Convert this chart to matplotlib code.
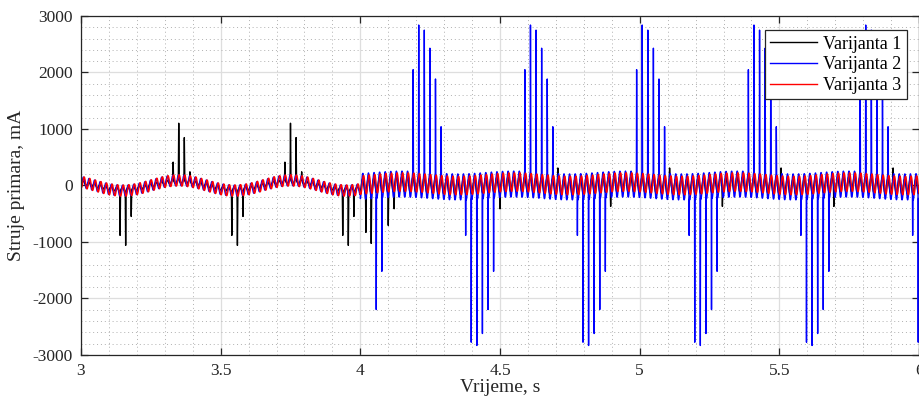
import numpy as np
import matplotlib
matplotlib.use('Agg')
import matplotlib.pyplot as plt
from matplotlib.ticker import MultipleLocator, FuncFormatter

# spike groups (time of first spike, s / peak values, mA)
spike_step = 0.02
v1_neg_starts = [3.140, 3.540, 3.937]
v1_neg_peaks = [-883, -1060, -548]
v1_pos_starts = [3.330, 3.730]
v1_pos_peaks = [413, 1102, 848, 242]
v1_extra_t = [4.020, 4.039, 4.100, 4.121, 4.500, 4.896, 5.296, 5.695, 4.707, 5.107, 5.506, 5.907]
v1_extra_y = [-830, -1025, -707, -412, -412, -370, -370, -370, 310, 310, 310, 310]

v2_pos_starts = [4.189, 4.589, 4.989, 5.389, 5.789]
v2_pos_peaks = [2050, 2840, 2750, 2430, 1885, 1040]
v2_neg_starts = [3.977, 4.377, 4.777, 5.177, 5.577, 5.977]
v2_neg_peaks = [-883, -2774, -2832, -2620, -2196, -1519]
v2_on = 4.05

# background ripple (V1, V2, V3)
f_grid = 50.0
f_slow = 2.5
switch_t = 4.0
ripple_pre = [35, 95, 100]
ripple_post = [130, 230, 165]
hump_pre = [70, 90, 90]
hump_post = [20, 25, 30]
offset_post = [0, 0, 30]
phase = [0.3, 0.0, -0.8]

labels = ['Varijanta 1', 'Varijanta 2', 'Varijanta 3']
colors = ['black', 'blue', 'red']

t = np.arange(3.0, 6.0001, 0.0002)


def base_wave(i):
    pre = t < switch_t
    amp = np.where(pre, ripple_pre[i], ripple_post[i])
    hump = np.where(pre, hump_pre[i], hump_post[i])
    off = np.where(pre, 0, offset_post[i])
    return off + hump * np.cos(2 * np.pi * f_slow * (t - 3.35)) + \
        amp * np.cos(2 * np.pi * f_grid * (t - 4.189) + phase[i])


def add_spikes(y, times, peaks, hw):
    for ts, h in zip(times, peaks):
        w = np.clip(1 - np.abs(t - ts) / hw, 0, 1)
        y = y * (1 - w) + h * w
    return y


def group(starts, peaks, t_min=None):
    ts, hs = [], []
    for s in starts:
        for k, h in enumerate(peaks):
            tk = s + k * spike_step
            if t_min is not None and tk < t_min:
                continue
            ts.append(tk)
            hs.append(h)
    return ts, hs


y1 = base_wave(0)
for st, pk in [(v1_neg_starts, v1_neg_peaks), (v1_pos_starts, v1_pos_peaks)]:
    ts, hs = group(st, pk)
    y1 = add_spikes(y1, ts, hs, 0.0015)
y1 = add_spikes(y1, v1_extra_t, v1_extra_y, 0.0015)

y2 = base_wave(1)
for st, pk in [(v2_pos_starts, v2_pos_peaks), (v2_neg_starts, v2_neg_peaks)]:
    ts, hs = group(st, pk, v2_on)
    y2 = add_spikes(y2, ts, hs, 0.0008)

y3 = base_wave(2)

plt.rcParams['font.family'] = ['Liberation Serif', 'DejaVu Serif']
plt.rcParams['axes.unicode_minus'] = False

fig = plt.figure(figsize=(9.2, 4.05), dpi=100)
ax = fig.add_axes([0.088, 0.1235, 0.911, 0.837])

for y, c, lab in zip([y1, y2, y3], colors, labels):
    ax.plot(t, y, color=c, lw=1.0, label=lab)

ax.set_xlim(3, 6)
ax.set_ylim(-3000, 3000)
ax.xaxis.set_major_locator(MultipleLocator(0.5))
ax.xaxis.set_minor_locator(MultipleLocator(0.1))
ax.yaxis.set_major_locator(MultipleLocator(1000))
ax.yaxis.set_minor_locator(MultipleLocator(200))
ax.xaxis.set_major_formatter(FuncFormatter(lambda v, p: '%g' % v))

ax.grid(which='major', color='#dedede', lw=0.9, ls='-')
ax.grid(which='minor', color='#b0b0b0', lw=0.7, ls=(0, (1, 3)))
ax.set_axisbelow(True)

ax.tick_params(which='major', direction='in', length=5, width=0.9, top=True, right=True,
               labelsize=12.5, colors='#262626', pad=6)
ax.tick_params(which='minor', length=0)
for s in ax.spines.values():
    s.set_color('#262626')
    s.set_linewidth(0.9)

ax.set_xlabel('Vrijeme, s', fontsize=14, color='#262626', labelpad=0)
ax.set_ylabel('Struje primara, mA', fontsize=14, color='#262626', labelpad=5)

leg = ax.legend(loc='upper right', bbox_to_anchor=(0.985, 0.958), fontsize=13,
                frameon=True, fancybox=False, framealpha=1, edgecolor='#262626',
                handlelength=2.6, handletextpad=0.3, borderpad=0.3, labelspacing=0.2,
                borderaxespad=0)
leg.get_frame().set_linewidth(0.9)

fig.savefig('out.png', dpi=100)
